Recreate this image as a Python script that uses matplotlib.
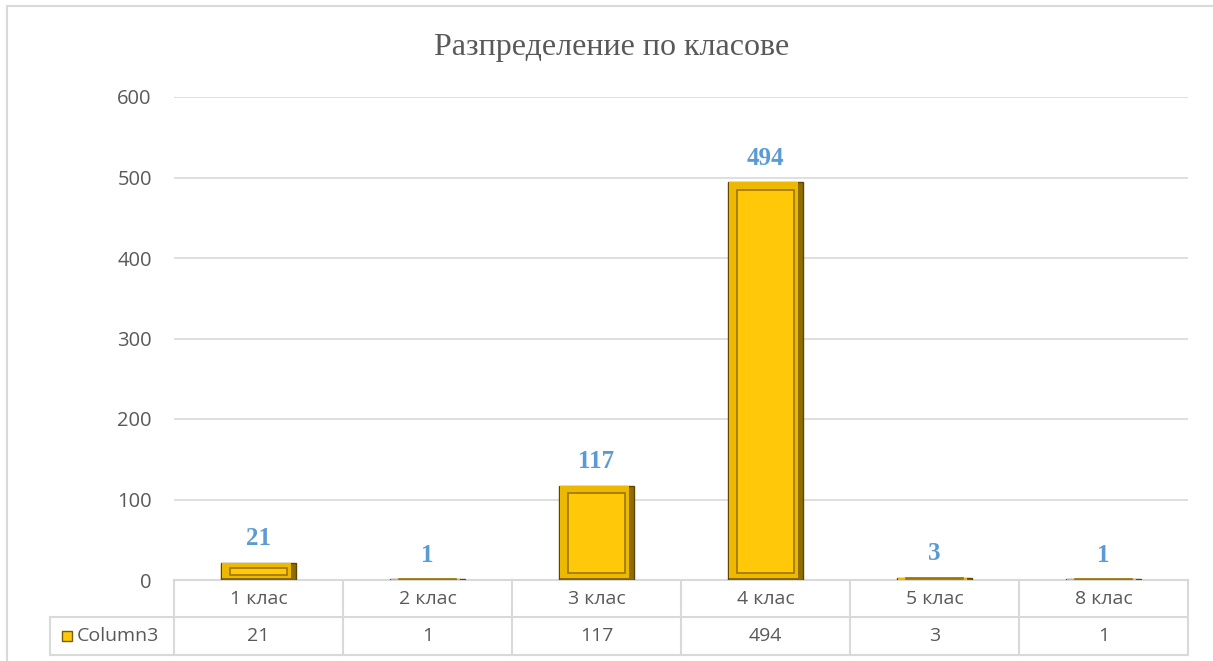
import matplotlib.pyplot as plt
from matplotlib.patches import Rectangle
from matplotlib.lines import Line2D
import matplotlib.transforms as mtransforms

# данни
categories = ['1 клас', '2 клас', '3 клас', '4 клас', '5 клас', '8 клас']
values = [21, 1, 117, 494, 3, 1]
series_name = 'Column3'
title = 'Разпределение по класове'

W, H = 1213, 661
fig = plt.figure(figsize=(W / 100, H / 100), dpi=100)

# рамка на диаграмата (дясната и долната страна са извън картинката)
fig.add_artist(Rectangle((7 / W, -0.01), 1.0, (H - 6) / H + 0.01, transform=fig.transFigure,
                         fill=False, edgecolor='#D9D9D9', linewidth=1.5))

left, right, top, bottom = 174, 1188, 97, 580
ax = fig.add_axes([left / W, 1 - bottom / H, (right - left) / W, (bottom - top) / H])

x = list(range(len(categories)))
bw = 0.44
gold_dark = '#7A5C00'
gold = '#FFC90A'

# основни стълбове (тъмна рамка)
ax.bar(x, values, width=bw, color='#8F6D00', edgecolor='#5E4600', linewidth=1.0, zorder=3)
# светла скосена рамка отгоре/отляво
ax.bar([xi - 0.01 for xi in x], [max(v - 2, v * 0.85) for v in values], width=bw - 0.03,
       bottom=[min(2, v * 0.15) for v in values], color='#EDB800', edgecolor='none', zorder=3)
# вътрешна повърхност
inset_y = [v * 0.3 if v < 25 else 9 for v in values]
inner_h = [max(v - 2 * iy, 0) for v, iy in zip(values, inset_y)]
ax.bar(x, inner_h, width=bw * 0.76, bottom=inset_y, color=gold, edgecolor='#9C7600',
       linewidth=1.2, zorder=4)

# етикети
for xi, v in zip(x, values):
    ax.text(xi, v + 30, str(v), ha='center', va='center', fontsize=18, fontweight='bold',
            color='#5B9BD5', family='Liberation Serif', zorder=5)

ax.set_xlim(-0.5, len(categories) - 0.5)
ax.set_ylim(0, 600)
ax.set_yticks(range(0, 601, 100))
ax.tick_params(axis='y', length=0, labelsize=14.5, labelcolor='#595959', pad=16)
for lb in ax.get_yticklabels():
    lb.set_family('Open Sans')
ax.set_xticks([])
ax.grid(axis='y', color='#D9D9D9', linewidth=1.2, zorder=0)
for s in ax.spines.values():
    s.set_visible(False)

fig.text(612 / W, 1 - 47 / H, title, ha='center', va='center', fontsize=23,
         family='Liberation Serif', color='#595959')

# таблица с данни под оста
ph = bottom - top
r1 = -37 / ph
r2 = -75 / ph
tr = mtransforms.blended_transform_factory(ax.transData, ax.transAxes)
lc = '#D9D9D9'
cw = (right - left) / len(categories)
x_left_table = -0.5 - (left - 50) / cw
kw = dict(color=lc, linewidth=1.5, clip_on=False)
ax.add_line(Line2D([-0.5, 5.5], [0, 0], transform=tr, **kw))
ax.add_line(Line2D([x_left_table, 5.5], [r1, r1], transform=tr, **kw))
ax.add_line(Line2D([x_left_table, 5.5], [r2, r2], transform=tr, **kw))
ax.add_line(Line2D([x_left_table, x_left_table], [r1, r2], transform=tr, **kw))
for b in range(len(categories) + 1):
    ax.add_line(Line2D([b - 0.5, b - 0.5], [0, r2], transform=tr, **kw))

for xi, c, v in zip(x, categories, values):
    ax.text(xi, r1 / 2, c, transform=tr, ha='center', va='center', fontsize=14,
            color='#595959', family='Open Sans')
    ax.text(xi, (r1 + r2) / 2, str(v), transform=tr, ha='center', va='center', fontsize=14,
            color='#595959', family='Open Sans')

# легенда в таблицата
key_x = x_left_table + 12 / cw
ax.add_patch(Rectangle((key_x, (r1 + r2) / 2 - 5 / ph), 10 / cw, 10 / ph, transform=tr,
                       facecolor=gold, edgecolor=gold_dark, linewidth=1, clip_on=False))
ax.text(x_left_table + 27 / cw, (r1 + r2) / 2, series_name, transform=tr, ha='left', va='center',
        fontsize=14, color='#595959', family='Open Sans')

fig.savefig('out.png', dpi=100)
